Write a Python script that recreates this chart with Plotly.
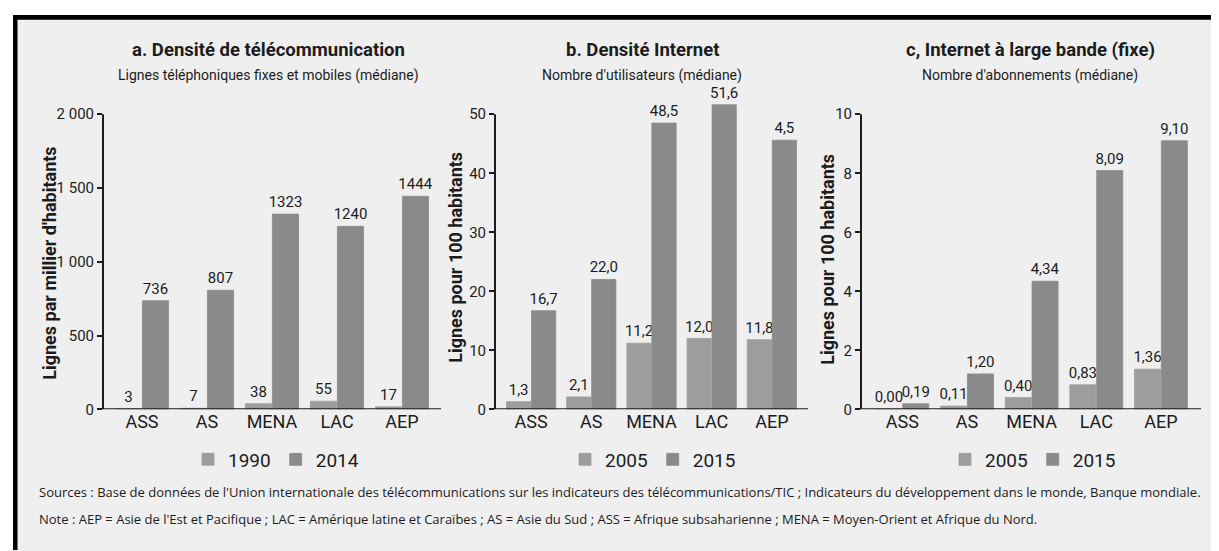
import plotly.graph_objects as go

W, H = 1219, 551

categories = ["ASS", "AS", "MENA", "LAC", "AEP"]

# Panel a: telecom density (lines per 1000 inhabitants)
a_1990 = [3, 7, 38, 55, 17]
a_2014 = [736, 807, 1323, 1240, 1444]
a_1990_txt = ["3", "7", "38", "55", "17"]
a_2014_txt = ["736", "807", "1323", "1240", "1444"]
a_ticks = [0, 500, 1000, 1500, 2000]
a_ticktext = ["0", "500", "1 000", "1 500", "2 000"]

# Panel b: internet density (users per 100)
b_2005 = [1.3, 2.1, 11.2, 12.0, 11.8]
b_2015 = [16.7, 22.0, 48.5, 51.6, 45.6]
b_2005_txt = ["1,3", "2,1", "11,2", "12,0", "11,8"]
b_2015_txt = ["16,7", "22,0", "48,5", "51,6", "4,5"]
b_ticks = [0, 10, 20, 30, 40, 50]

# Panel c: fixed broadband (subscriptions per 100)
c_2005 = [0.00, 0.11, 0.40, 0.83, 1.36]
c_2015 = [0.19, 1.20, 4.34, 8.09, 9.10]
c_2005_txt = ["0,00", "0,11", "0,40", "0,83", "1,36"]
c_2015_txt = ["0,19", "1,20", "4,34", "8,09", "9,10"]
c_ticks = [0, 2, 4, 6, 8, 10]

FONT = "Roboto, Liberation Sans Narrow, sans-serif"
LIGHT = "#9d9d9d"
DARK = "#8a8a8a"
INK = "#1c1c1c"
BG = "#efefef"

def px_x(p):
    return p / W

def px_y(p):
    return (H - p) / H

y_dom = [px_y(408), px_y(88)]
top_scale = (408 - 88) / 300.0

fig = go.Figure()

panels = [
    ("", "legend", a_1990, a_2014, a_1990_txt, a_2014_txt, "1990", "2014"),
    ("2", "legend2", b_2005, b_2015, b_2005_txt, b_2015_txt, "2005", "2015"),
    ("3", "legend3", c_2005, c_2015, c_2005_txt, c_2015_txt, "2005", "2015"),
]

for suf, leg, v1, v2, t1, t2, n1, n2 in panels:
    for vals, txt, name, col in [(v1, t1, n1, LIGHT), (v2, t2, n2, DARK)]:
        fig.add_trace(go.Bar(
            x=categories, y=vals, name=name, text=txt,
            textposition="outside", cliponaxis=False, constraintext="none",
            textfont=dict(family=FONT, size=15, color=INK),
            marker=dict(color=col, line=dict(color=col, width=0.8)),
            xaxis="x" + suf, yaxis="y" + suf, legend=leg,
            hoverinfo="skip",
        ))

x_doms = [[px_x(95), px_x(433)], [px_x(487), px_x(800)], [px_x(853), px_x(1193)]]
x_ranges = [[-0.6, 4.6], [-0.6, 4.6], [-0.64, 4.62]]
y_maxes = [2000, 50, 10]
tickvals = [a_ticks, b_ticks, c_ticks]
ticktexts = [a_ticktext, [str(t) for t in b_ticks], [str(t) for t in c_ticks]]

layout = dict(
    width=W, height=H,
    margin=dict(l=0, r=0, t=0, b=0),
    paper_bgcolor=BG, plot_bgcolor=BG,
    barmode="group", bargap=0.17, bargroupgap=0.03,
    font=dict(family=FONT, color=INK),
    showlegend=True,
)

sufs = ["", "2", "3"]
for i, suf in enumerate(sufs):
    layout["xaxis" + suf] = dict(
        domain=x_doms[i], range=x_ranges[i], anchor="y" + suf,
        showline=False, showgrid=False, zeroline=False, ticks="",
        tickfont=dict(family=FONT, size=18, color=INK), fixedrange=True,
    )
    layout["yaxis" + suf] = dict(
        domain=y_dom, range=[0, y_maxes[i] * top_scale], anchor="x" + suf,
        showline=False, showgrid=False, zeroline=False,
        tickmode="array", tickvals=tickvals[i], ticktext=ticktexts[i],
        ticks="outside", ticklen=5, tickwidth=1.5, tickcolor=INK,
        tickfont=dict(family=FONT, size=15, color=INK), fixedrange=True,
    )

legend_x = [268, 645, 1025]
for i, key in enumerate(["legend", "legend2", "legend3"]):
    layout[key] = dict(
        orientation="h", x=px_x(legend_x[i]), xanchor="center",
        y=px_y(459), yanchor="middle", bgcolor="rgba(0,0,0,0)",
        font=dict(family=FONT, size=19, color=INK), traceorder="normal",
        itemclick=False, itemdoubleclick=False,
    )

fig.update_layout(**layout)

shapes = []
# axis lines
for i, suf in enumerate(sufs):
    xr = "x" + suf
    yr = "y" + suf
    shapes.append(dict(type="line", xref=xr + " domain", yref=yr,
                       x0=-0.01, x1=1, y0=0, y1=0,
                       line=dict(color=INK, width=2)))
    shapes.append(dict(type="line", xref=xr + " domain", yref=yr,
                       x0=0, x1=0, y0=0, y1=y_maxes[i],
                       line=dict(color=INK, width=2)))
# frame (top and left)
shapes.append(dict(type="rect", xref="paper", yref="paper",
                   x0=0, x1=1, y0=px_y(7), y1=1, fillcolor="white",
                   line=dict(width=0), layer="above"))
shapes.append(dict(type="rect", xref="paper", yref="paper",
                   x0=0, x1=px_x(5), y0=0, y1=1, fillcolor="white",
                   line=dict(width=0), layer="above"))
shapes.append(dict(type="rect", xref="paper", yref="paper",
                   x0=px_x(5), x1=1, y0=px_y(12), y1=px_y(7), fillcolor="black",
                   line=dict(width=0), layer="above"))
shapes.append(dict(type="rect", xref="paper", yref="paper",
                   x0=px_x(5), x1=px_x(9.5), y0=0, y1=px_y(7), fillcolor="black",
                   line=dict(width=0), layer="above"))
fig.update_layout(shapes=shapes)

titles = [
    (260, "a. Densité de télécommunication", "Lignes téléphoniques fixes et mobiles (médiane)"),
    (634, "b. Densité Internet", "Nombre d'utilisateurs (médiane)"),
    (1022, "c, Internet à large bande (fixe)", "Nombre d'abonnements (médiane)"),
]
ann = []
for cx, t, s in titles:
    ann.append(dict(text="<b>" + t + "</b>", x=px_x(cx), y=px_y(43), xref="paper", yref="paper",
                    showarrow=False, xanchor="center", yanchor="middle",
                    font=dict(family=FONT, size=18.5, color=INK)))
    ann.append(dict(text=s, x=px_x(cx), y=px_y(69), xref="paper", yref="paper",
                    showarrow=False, xanchor="center", yanchor="middle",
                    font=dict(family=FONT, size=14, color=INK)))

ytitles = [
    (42, 260, "Lignes par millier d'habitants"),
    (448, 254, "Lignes pour 100 habitants"),
    (820, 255, "Lignes pour 100 habitants"),
]
for x, y, t in ytitles:
    ann.append(dict(text="<b>" + t + "</b>", x=px_x(x), y=px_y(y), xref="paper", yref="paper",
                    showarrow=False, xanchor="center", yanchor="middle", textangle=-90,
                    font=dict(family=FONT, size=18, color=INK)))

FOOT = "Open Sans, Noto Sans, sans-serif"
ann.append(dict(text="Sources : Base de données de l'Union internationale des télécommunications sur les indicateurs des télécommunications/TIC ; Indicateurs du développement dans le monde, Banque mondiale.",
                x=px_x(29), y=px_y(492), xref="paper", yref="paper", showarrow=False,
                xanchor="left", yanchor="middle", font=dict(family=FOOT, size=13, color=INK)))
ann.append(dict(text="Note : AEP = Asie de l'Est et Pacifique ; LAC = Amérique latine et Caraïbes ; AS = Asie du Sud ; ASS = Afrique subsaharienne ; MENA = Moyen-Orient et Afrique du Nord.",
                x=px_x(29), y=px_y(519), xref="paper", yref="paper", showarrow=False,
                xanchor="left", yanchor="middle", font=dict(family=FOOT, size=13, color=INK)))
fig.update_layout(annotations=ann)

fig.write_html("out.html")
